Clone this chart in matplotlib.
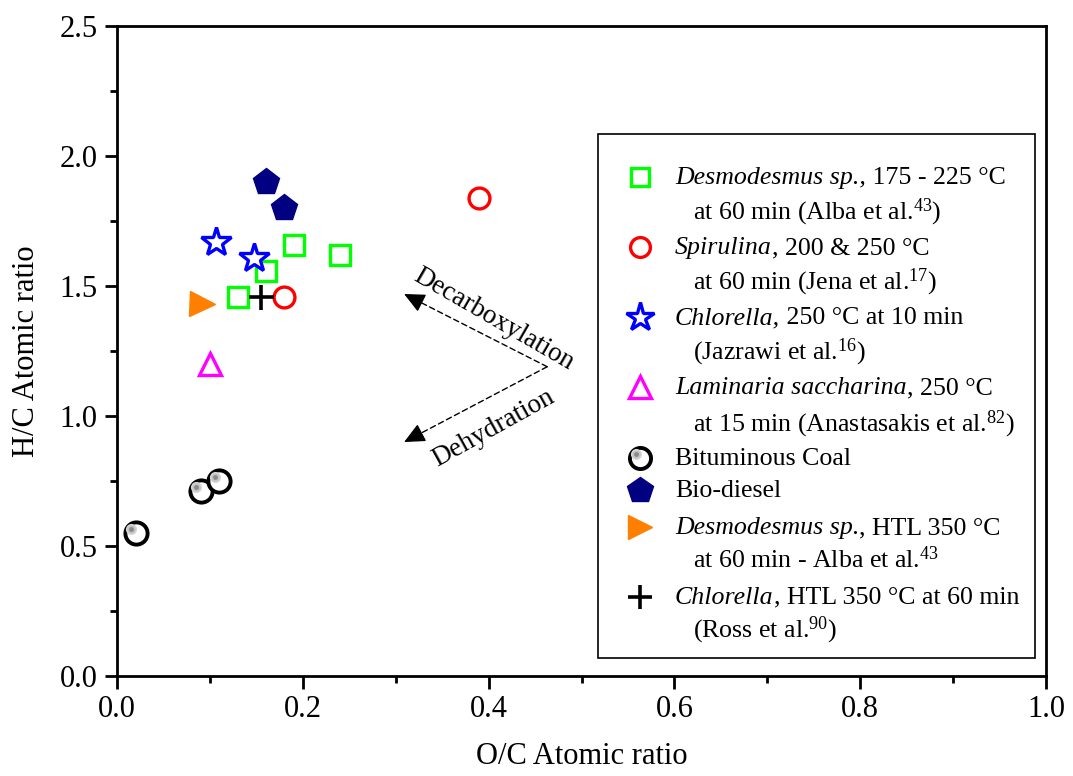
import matplotlib
matplotlib.use('Agg')
import matplotlib.pyplot as plt
import matplotlib.transforms as mtransforms
from matplotlib.patches import Rectangle

plt.rcParams['font.family'] = 'Liberation Serif'
plt.rcParams['mathtext.fontset'] = 'custom'
plt.rcParams['mathtext.rm'] = 'Liberation Serif'
plt.rcParams['mathtext.it'] = 'Liberation Serif:italic'

# O/C and H/C atomic ratios for each feedstock / product
desmo_oc = [0.13, 0.16, 0.19, 0.24]
desmo_hc = [1.46, 1.56, 1.66, 1.62]
spir_oc = [0.18, 0.39]
spir_hc = [1.46, 1.84]
chlor_oc = [0.107, 0.148]
chlor_hc = [1.67, 1.61]
lamin_oc = [0.10]
lamin_hc = [1.20]
coal_oc = [0.02, 0.09, 0.11]
coal_hc = [0.55, 0.71, 0.75]
diesel_oc = [0.16, 0.18]
diesel_hc = [1.90, 1.80]
htl_desmo_oc = [0.092]
htl_desmo_hc = [1.43]
htl_chlor_oc = [0.155]
htl_chlor_hc = [1.46]

# legend text: (italic part, upright rest of first line, continuation line)
labels = [
    ('Desmodesmus sp.,', ' 175 - 225 °C', 'at 60 min (Alba et al.$^{43}$)'),
    ('Spirulina', ', 200 & 250 °C', 'at 60 min (Jena et al.$^{17}$)'),
    ('Chlorella,', ' 250 °C at 10 min', '(Jazrawi et al.$^{16}$)'),
    ('Laminaria saccharina', ', 250 °C', 'at 15 min (Anastasakis et al.$^{82}$)'),
    ('', 'Bituminous Coal', None),
    ('', 'Bio-diesel', None),
    ('Desmodesmus sp.', ', HTL 350 °C', 'at 60 min - Alba et al.$^{43}$'),
    ('Chlorella', ', HTL 350 °C at 60 min', '(Ross et al.$^{90}$)'),
]

styles = [
    dict(marker='s', ms=14, mfc='none', mec='#00FF00', mew=2.4),
    dict(marker='o', ms=15, mfc='none', mec='#FF0000', mew=2.4),
    dict(marker='*', ms=22, mfc='white', mec='#0000FF', mew=2.4),
    dict(marker='^', ms=16, mfc='none', mec='#FF00FF', mew=2.4),
    dict(marker='o', ms=16, mfc='white', mec='black', mew=2.8),
    dict(marker='p', ms=20, mfc='#000080', mec='#000080'),
    dict(marker='>', ms=18, mfc='#FF8000', mec='#FF8000'),
    dict(marker='+', ms=18, mec='black', mew=2.6),
]
series = [
    (desmo_oc, desmo_hc), (spir_oc, spir_hc), (chlor_oc, chlor_hc), (lamin_oc, lamin_hc),
    (coal_oc, coal_hc), (diesel_oc, diesel_hc), (htl_desmo_oc, htl_desmo_hc),
    (htl_chlor_oc, htl_chlor_hc),
]

fig = plt.figure(figsize=(10.73, 7.76), dpi=100)
ax = fig.add_axes([0.109, 0.129, 0.866, 0.837])
renderer = fig.canvas.get_renderer()

for (x, y), st in zip(series, styles):
    ax.plot(x, y, ls='none', **st)

# grey highlight inside each coal ring
shift = mtransforms.ScaledTranslation(-3 / 72, 3 / 72, fig.dpi_scale_trans)
ax.plot(coal_oc, coal_hc, 'o', ls='none', ms=7, mfc='#c4c4c4', mec='#d8d8d8', mew=1,
        transform=ax.transData + shift)
ax.plot(coal_oc, coal_hc, 'o', ls='none', ms=3.5, mfc='#8a8a8a', mec='none',
        transform=ax.transData + shift)

# reaction pathway arrows: dashed shaft plus a solid head near the tip
start = (0.463, 1.19)
for tip in [(0.309, 1.47), (0.309, 0.90)]:
    ax.annotate('', xy=tip, xytext=start,
                arrowprops=dict(arrowstyle='-', ls=(0, (4, 2.5)), lw=1, color='black',
                                shrinkA=0, shrinkB=4))
    near = (tip[0] + 0.06 * (start[0] - tip[0]), tip[1] + 0.06 * (start[1] - tip[1]))
    ax.annotate('', xy=tip, xytext=near,
                arrowprops=dict(arrowstyle='-|>,head_length=0.75,head_width=0.35', lw=1,
                                color='black', shrinkA=0, shrinkB=0, mutation_scale=17))
ax.text(0.405, 1.372, 'Decarboxylation', rotation=-30, fontsize=19.5, ha='center', va='center')
ax.text(0.405, 0.955, 'Dehydration', rotation=29, fontsize=19.5, ha='center', va='center')

ax.set_xlim(0, 1.0)
ax.set_ylim(0, 2.5)
ax.set_xticks([0.0, 0.2, 0.4, 0.6, 0.8, 1.0])
ax.set_xticks([0.1, 0.3, 0.5, 0.7, 0.9], minor=True)
ax.set_yticks([0.0, 0.5, 1.0, 1.5, 2.0, 2.5])
ax.set_yticks([0.25, 0.75, 1.25, 1.75, 2.25], minor=True)
ax.set_xticklabels(['0.0', '0.2', '0.4', '0.6', '0.8', '1.0'])
ax.set_yticklabels(['0.0', '0.5', '1.0', '1.5', '2.0', '2.5'])
ax.tick_params(axis='both', which='major', direction='out', length=9, width=2, labelsize=22, pad=5)
ax.tick_params(axis='both', which='minor', direction='out', length=5, width=2)
for s in ax.spines.values():
    s.set_linewidth(2)
ax.set_xlabel('O/C Atomic ratio', fontsize=22, labelpad=13)
ax.set_ylabel('H/C Atomic ratio', fontsize=22, labelpad=13)

# legend drawn by hand so markers sit on the first line of each entry
ax.add_patch(Rectangle((0.518, 0.028), 0.470, 0.807, transform=ax.transAxes, fill=False,
                       edgecolor='black', lw=1.2, zorder=5))
row_px = [[177, 212], [247, 282], [317, 352], [387, 424], [458], [490], [527, 561], [597, 631]]
fs = 18.6
base_drop = 7  # text baseline sits a little below the marker centre
for (ital, rest, line2), st, rows in zip(labels, styles, row_px):
    ym = (676 - rows[0]) / 650
    yy = [(676 - r - base_drop) / 650 for r in rows]
    ax.plot([0.563], [ym], ls='none', transform=ax.transAxes, clip_on=False, zorder=6,
            **dict(st, ms=st['ms'] * 0.95))
    dx = 0
    if ital:
        t = ax.text(0.6006, yy[0], ital, transform=ax.transAxes, fontsize=fs, style='italic',
                    va='baseline', ha='left', zorder=6)
        dx = t.get_window_extent(renderer).width / fig.dpi
    off = mtransforms.ScaledTranslation(dx, 0, fig.dpi_scale_trans)
    ax.text(0.6006, yy[0], rest, transform=ax.transAxes + off, fontsize=fs,
            va='baseline', ha='left', zorder=6)
    if line2:
        ax.text(0.620, yy[1], line2, transform=ax.transAxes, fontsize=fs,
                va='baseline', ha='left', zorder=6)
    if st['mec'] == 'black' and st['marker'] == 'o':
        ax.plot([0.563], [ym], 'o', ms=7, mfc='#c4c4c4', mec='#d8d8d8', mew=1,
                transform=ax.transAxes + shift, clip_on=False, zorder=7)
        ax.plot([0.563], [ym], 'o', ms=3.5, mfc='#8a8a8a', mec='none',
                transform=ax.transAxes + shift, clip_on=False, zorder=7)

plt.savefig('out.png', dpi=100)
